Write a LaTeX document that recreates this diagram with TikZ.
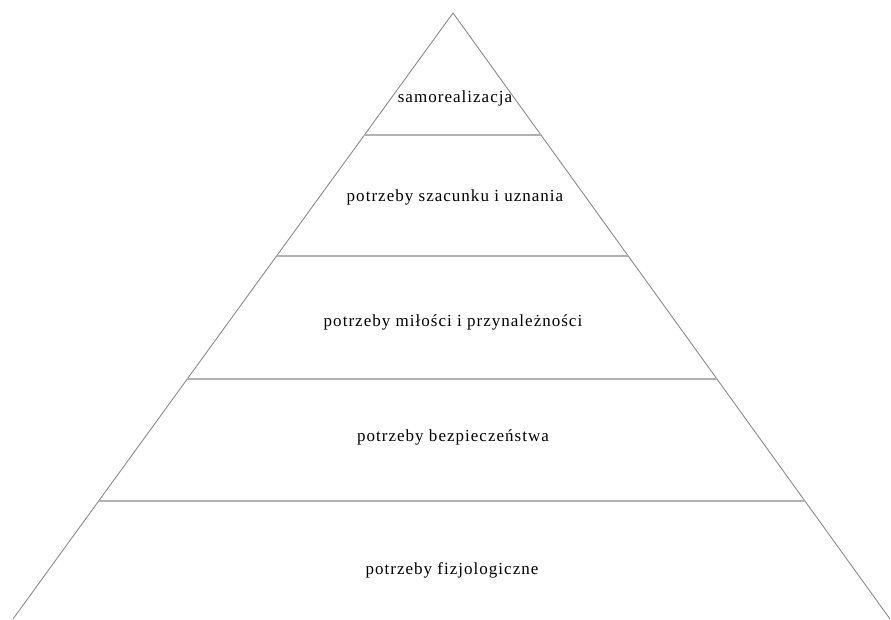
\documentclass[tikz,border=0pt]{standalone}
\usepackage{fontspec}
\setmainfont{Liberation Serif}
\newfontfamily\lblfont[LetterSpace=6]{Liberation Serif}
\begin{document}
\begin{tikzpicture}[x=1pt,y=1pt,
  side/.style={draw=black!45,line width=0.9pt},
  level/.style={draw=black!30,line width=1.6pt},
  lbl/.style={font=\lblfont\fontsize{17}{19}\selectfont,text=black,inner sep=0pt}]
\useasboundingbox (0,0) rectangle (891,619);
\coordinate (A) at (453,606);
\coordinate (L) at (13,0);
\coordinate (R) at (890,0);
\draw[side] (L) -- (A) -- (R);
\coordinate (l1) at (364.4,484); \coordinate (r1) at (541.0,484);
\coordinate (l2) at (276.6,363); \coordinate (r2) at (628.2,363);
\coordinate (l3) at (187.2,240); \coordinate (r3) at (716.9,240);
\coordinate (l4) at (98.7,118);  \coordinate (r4) at (804.9,118);
\draw[level] (l1) -- (r1);
\draw[level] (l2) -- (r2);
\draw[level] (l3) -- (r3);
\draw[level] (l4) -- (r4);
\node[lbl] (t1) at (455,521) {samorealizacja};
\node[lbl] (t2) at (455,422) {potrzeby szacunku i uznania};
\node[lbl] (t3) at (453,297) {potrzeby miłości i przynależności};
\node[lbl] (t4) at (453,182) {potrzeby bezpieczeństwa};
\node[lbl] (t5) at (452,49) {potrzeby fizjologiczne};
\end{tikzpicture}
\end{document}
